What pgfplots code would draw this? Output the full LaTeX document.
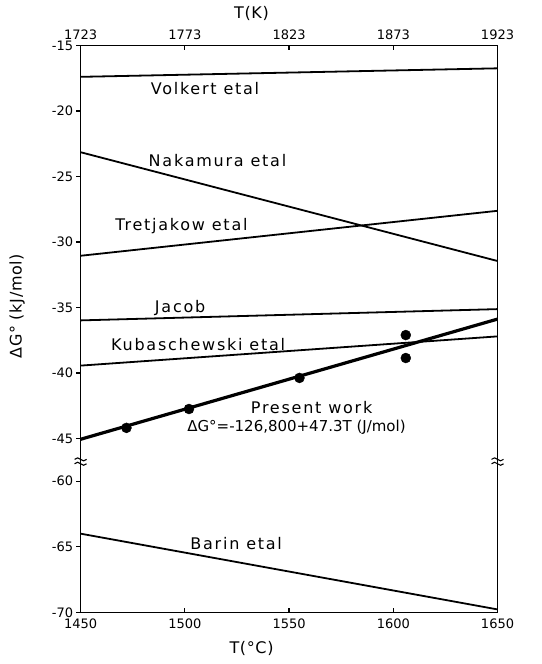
\documentclass[border=0pt]{standalone}
\usepackage{fontspec}
\setmainfont{DejaVu Sans}
\newfontfamily\lblfont[LetterSpace=11]{DejaVu Sans}
\newfontfamily\axlblfont[LetterSpace=4]{DejaVu Sans}
\usepackage{pgfplots}
\pgfplotsset{compat=1.18}
\begin{document}
\begin{tikzpicture}[font=\fontsize{13}{15}\selectfont]
\begin{axis}[
  name=main,
  scale only axis, width=417pt, height=567pt,
  xmin=1450, xmax=1650, ymin=-58.25, ymax=-15,
  clip=false,
  axis line style={line width=1.5pt},
  xtick={1450,1500,1550,1600,1650},
  xtick pos=left, ytick pos=left,
  tick align=inside, major tick length=4.5pt,
  tick style={line width=1.2pt, black},
  y tick style={xshift=-4.5pt},
  ytick={-15,-20,-25,-30,-35,-40,-45,-48.25,-53.25,-58.25},
  yticklabels={-15,-20,-25,-30,-35,-40,-45,-60,-65,-70},
  minor tick num=0,
  /pgf/number format/assume math mode=true,
  /pgf/number format/1000 sep={},
  tick label style={font=\fontsize{13}{15}\selectfont},
  label style={font=\axlblfont\fontsize{16}{18}\selectfont},
  x tick label style={yshift=-3pt},
  y tick label style={xshift=-4pt},
  xlabel={T(°C)},
  xlabel style={at={(axis description cs:0.41,-0.0635)}, anchor=center},
  ylabel={ΔG° (kJ/mol)},
  ylabel style={at={(axis description cs:-0.152,0.54)}, anchor=center},
]
% Volkert etal
\addplot[line width=1.8pt] coordinates {(1450,-17.40) (1650,-16.75)};
% Nakamura etal
\addplot[line width=1.8pt] coordinates {(1450,-23.15) (1650,-31.45)};
% Tretjakow etal
\addplot[line width=1.8pt] coordinates {(1450,-31.05) (1650,-27.62)};
% Jacob
\addplot[line width=1.8pt] coordinates {(1450,-35.98) (1650,-35.12)};
% Kubaschewski etal
\addplot[line width=1.8pt] coordinates {(1450,-39.43) (1650,-37.20)};
% Present work
\addplot[line width=3.2pt] coordinates {(1450,-45.05) (1650,-35.88)};
\addplot[only marks, mark=*, mark size=5pt] coordinates {
  (1472,-44.18) (1502,-42.74) (1555,-40.37) (1606,-37.10) (1606,-38.85)};
% Barin etal (lower panel, shifted by +11.75 because of the axis break)
\addplot[line width=1.8pt] table[row sep=\\, y expr=\thisrow{y}+11.75] {
  x y \\ 1450 -64.00 \\ 1650 -69.78 \\};

\node[anchor=west, font=\lblfont\fontsize{16}{18}\selectfont] at (axis cs:1482,-18.3) {Volkert etal};
\node[anchor=west, font=\lblfont\fontsize{16}{18}\selectfont] at (axis cs:1481,-23.8) {Nakamura etal};
\node[anchor=west, font=\lblfont\fontsize{16}{18}\selectfont] at (axis cs:1465,-28.82) {Tretjakow etal};
\node[anchor=west, font=\lblfont\fontsize{16}{18}\selectfont] at (axis cs:1484,-35.04) {Jacob};
\node[anchor=west, font=\lblfont\fontsize{16}{18}\selectfont] at (axis cs:1463,-37.84) {Kubaschewski etal};
\node[anchor=west, font=\lblfont\fontsize{16}{18}\selectfont] at (axis cs:1530,-42.66) {Present work};
\node[anchor=west, font=\fontsize{15}{17}\selectfont] at (axis cs:1499.5,-44.1) {ΔG°=-126,800+47.3T (J/mol)};
\node[anchor=west, font=\lblfont\fontsize{16}{18}\selectfont] at (axis cs:1501,-53.0) {Barin etal};

% axis break marks
\draw[line width=1.1pt] ([xshift=-6pt,yshift=2.2pt]axis cs:1450,-46.75) sin +(3pt,1.5pt) cos +(3pt,-1.5pt) sin +(3pt,-1.5pt) cos +(3pt,1.5pt);
\draw[line width=1.1pt] ([xshift=-6pt,yshift=-2.2pt]axis cs:1450,-46.75) sin +(3pt,1.5pt) cos +(3pt,-1.5pt) sin +(3pt,-1.5pt) cos +(3pt,1.5pt);
\draw[line width=1.1pt] ([xshift=-6pt,yshift=2.2pt]axis cs:1650,-46.75) sin +(3pt,1.5pt) cos +(3pt,-1.5pt) sin +(3pt,-1.5pt) cos +(3pt,1.5pt);
\draw[line width=1.1pt] ([xshift=-6pt,yshift=-2.2pt]axis cs:1650,-46.75) sin +(3pt,1.5pt) cos +(3pt,-1.5pt) sin +(3pt,-1.5pt) cos +(3pt,1.5pt);
\end{axis}
\begin{axis}[
  scale only axis, width=417pt, height=567pt,
  xmin=1723, xmax=1923, ymin=0, ymax=1,
  axis x line*=top, axis y line=none,
  axis line style={line width=1.5pt},
  xtick={1723,1773,1823,1873,1923},
  tick align=inside, major tick length=4.5pt,
  tick style={line width=1.2pt, black},
  minor tick num=0,
  /pgf/number format/assume math mode=true,
  /pgf/number format/1000 sep={},
  tick label style={font=\fontsize{13}{15}\selectfont},
  label style={font=\axlblfont\fontsize{16}{18}\selectfont},
  x tick label style={yshift=2pt},
  xlabel={T(K)},
  xlabel style={at={(axis description cs:0.41,1.057)}, anchor=center},
]
\end{axis}
\pgfresetboundingbox
\path[use as bounding box] ([shift={(-80.6pt,-51.7pt)}]main.south west) rectangle ([shift={(44.3pt,45.4pt)}]main.north east);
\end{tikzpicture}
\end{document}
